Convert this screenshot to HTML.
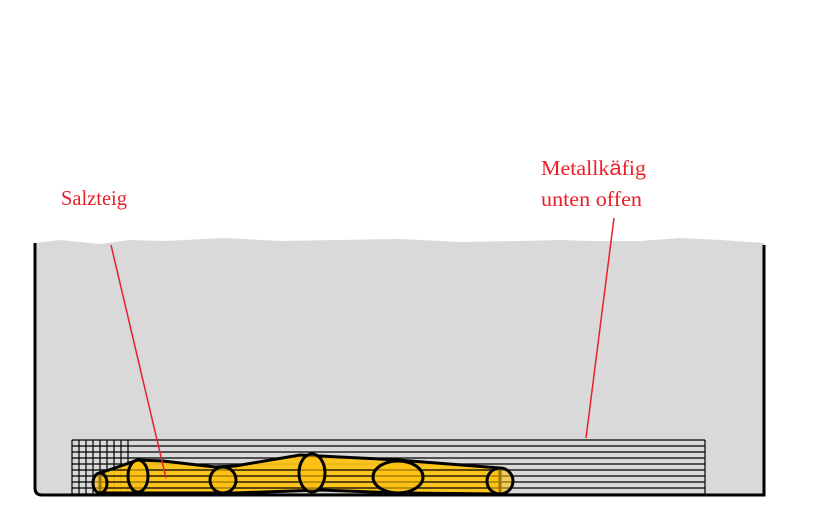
<!DOCTYPE html>
<html><head><style>body{margin:0;background:#fff}svg{display:block}</style></head><body>
<svg width="840" height="525" xmlns="http://www.w3.org/2000/svg">
<rect width="840" height="525" fill="#fff"/>
<path d="M35,243 L60,240 L100,244 L130,240 L165,241 L225,238 L280,241 L400,239 L460,242 L520,241 L560,240 L590,241 L640,241 L680,238 L720,240 L764,243 L764,495 L35,495 Z" fill="#d9d9d9"/>
<path d="M35,243 L35,488 Q35,495 42,495 L764,495 L764,245" fill="none" stroke="#000" stroke-width="3"/>
<g stroke="#000" stroke-width="1.2">
<line x1="72" y1="440" x2="705" y2="440"/><line x1="72" y1="446" x2="705" y2="446"/>
<line x1="72" y1="452" x2="705" y2="452"/><line x1="72" y1="458" x2="705" y2="458"/>
<line x1="72" y1="464" x2="705" y2="464"/><line x1="72" y1="470" x2="705" y2="470"/>
<line x1="72" y1="476" x2="705" y2="476"/><line x1="72" y1="482" x2="705" y2="482"/>
<line x1="72" y1="488" x2="705" y2="488"/><line x1="72" y1="494" x2="705" y2="494"/>
<line x1="72" y1="440" x2="72" y2="494"/><line x1="79" y1="440" x2="79" y2="494"/>
<line x1="86" y1="440" x2="86" y2="494"/><line x1="93" y1="440" x2="93" y2="494"/>
<line x1="100" y1="440" x2="100" y2="494"/><line x1="107" y1="440" x2="107" y2="494"/>
<line x1="114" y1="440" x2="114" y2="494"/><line x1="121" y1="440" x2="121" y2="494"/>
<line x1="128" y1="440" x2="128" y2="494"/><line x1="705" y1="440" x2="705" y2="494"/>
</g>
<path d="M100,473 L138,460 L163,461 L215,467 L235,466 L300,455 L398,460 L500,468 L500,494 L400,493 L320,490 L235,493 L160,493 L100,493 Z" fill="#ffc20e" fill-opacity="0.92" stroke="#000" stroke-width="3"/>
<g stroke="#000" stroke-width="1.2">
<line x1="100" y1="470" x2="505" y2="470"/><line x1="100" y1="476" x2="512" y2="476"/>
<line x1="100" y1="482" x2="512" y2="482"/><line x1="100" y1="488" x2="512" y2="488"/>
</g>
<g fill="#ffc20e" fill-opacity="0.6" stroke="#000" stroke-width="3">
<ellipse cx="100" cy="483" rx="7" ry="10"/>
<ellipse cx="138" cy="476" rx="10" ry="16"/>
<ellipse cx="223" cy="480" rx="13" ry="13"/>
<ellipse cx="312" cy="473" rx="13" ry="19"/>
<ellipse cx="398" cy="477" rx="25" ry="16"/>
<ellipse cx="500" cy="481" rx="13" ry="13"/>
</g>
<g stroke="#e8202a" stroke-width="1.5">
<line x1="111" y1="245" x2="166" y2="478"/>
<line x1="614" y1="218" x2="586" y2="438"/>
</g>
<g font-family="Liberation Serif, serif" font-size="21" fill="#e8202a">
<text x="61" y="205" textLength="66" lengthAdjust="spacingAndGlyphs">Salzteig</text>
<text x="541" y="175" textLength="105" lengthAdjust="spacingAndGlyphs">Metallk<tspan font-family="Liberation Sans, sans-serif">ä</tspan>fig</text>
<text x="541" y="206" textLength="101" lengthAdjust="spacingAndGlyphs">unten offen</text>
</g>
</svg>
</body></html>
